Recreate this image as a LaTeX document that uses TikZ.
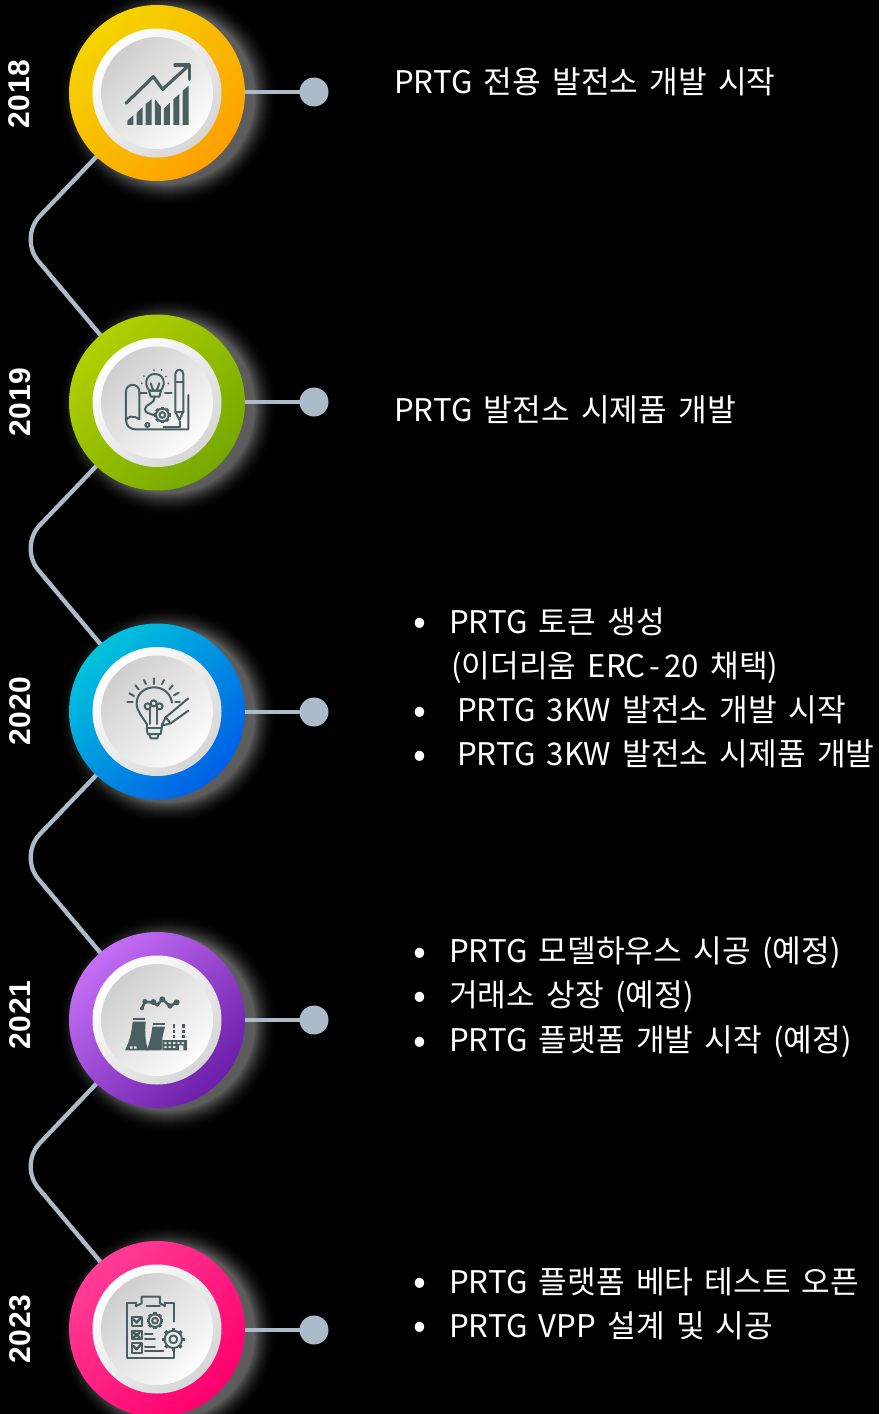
\documentclass[tikz,border=0pt]{standalone}
\usepackage{fontspec}
\setmainfont[WordSpace=1.6]{Noto Sans CJK KR}
\newfontfamily\yearfont[LetterSpace=2]{Liberation Sans}
\usetikzlibrary{shapes.geometric}
\pgfdeclarelayer{bg}
\pgfsetlayers{bg,main}
\definecolor{linec}{RGB}{172,187,202}
\definecolor{iconc}{RGB}{74,95,95}
\definecolor{ya}{RGB}{244,212,0}\definecolor{yb}{RGB}{255,160,0}
\definecolor{ga}{RGB}{176,208,0}\definecolor{gb}{RGB}{118,168,0}
\definecolor{ba}{RGB}{0,195,220}\definecolor{bb}{RGB}{0,95,230}
\definecolor{pa}{RGB}{195,110,245}\definecolor{pb}{RGB}{108,30,170}
\definecolor{ra}{RGB}{255,60,150}\definecolor{rb}{RGB}{255,0,110}
\tikzset{
 ringn/.style 2 args={circle,inner sep=0pt,minimum size=176pt,top color=#1,bottom color=#2,shading angle=45},
 whiten/.style={circle,inner sep=0pt,minimum size=129pt,top color=white,bottom color=black!16,shading angle=45},
 facen/.style={circle,inner sep=0pt,minimum size=112pt,top color=black!19,bottom color=black!1,shading angle=45},
 dotn/.style={circle,inner sep=0pt,minimum size=29pt,fill=linec},
 conn/.style={draw=linec,line width=4.3pt,rounded corners=30pt},
 stubn/.style={draw=linec,line width=4.3pt},
 yearn/.style={rotate=90,text=white,font=\yearfont\bfseries\fontsize{30}{36}\selectfont,inner sep=0pt},
 txt/.style={anchor=base west,text=white,font=\fontsize{31.2}{37}\selectfont,inner sep=0pt},
 bul/.style={anchor=base west,text=white,font=\fontsize{38}{38}\selectfont,inner sep=0pt},
 icon/.style={draw=iconc,line width=2pt,line cap=round,line join=round},
}
\newcommand{\gearico}[3]{%
 \draw[icon] (#1,#2) circle[radius=#3];
 \draw[icon] (#1,#2) circle[radius=0.45*#3];
 \foreach \ga in {0,45,...,315}{\draw[icon,line width=3.4pt,line cap=butt] ({#1+#3*cos(\ga)},{#2+#3*sin(\ga)}) -- ({#1+1.32*#3*cos(\ga)},{#2+1.32*#3*sin(\ga)});}}
\begin{document}
\begin{tikzpicture}[x=1pt,y=-1pt]
\useasboundingbox (0,0) rectangle (879,1414);
\clip (0,0) rectangle (879,1414);
% year rings
\node[ringn={ya}{yb}] (c1) at (157,93) {};
\node[whiten] (w1) at (c1) {}; \node[facen] (f1) at (c1) {};
\node[ringn={ga}{gb}] (c2) at (157,402.5) {};
\node[whiten] (w2) at (c2) {}; \node[facen] (f2) at (c2) {};
\node[ringn={ba}{bb}] (c3) at (157,711.5) {};
\node[whiten] (w3) at (c3) {}; \node[facen] (f3) at (c3) {};
\node[ringn={pa}{pb}] (c4) at (157,1020) {};
\node[whiten] (w4) at (c4) {}; \node[facen] (f4) at (c4) {};
\node[ringn={ra}{rb}] (c5) at (157,1329) {};
\node[whiten] (w5) at (c5) {}; \node[facen] (f5) at (c5) {};
% end dots
\node[dotn] (d1) at (314,92) {};
\node[dotn] (d2) at (314,402) {};
\node[dotn] (d3) at (314,712) {};
\node[dotn] (d4) at (314,1020) {};
\node[dotn] (d5) at (314,1330) {};
% bends
\coordinate (b1) at (19,238);
\coordinate (b2) at (19,547);
\coordinate (b3) at (19,856);
\coordinate (b4) at (19,1165);
\begin{pgfonlayer}{bg}
\fill[black] (0,0) rectangle (879,1414);
\foreach \i in {1,...,5}{
 \foreach \gr in {111,110,...,82}{
  \pgfmathsetmacro{\gv}{0.36*((111-\gr)/24)^2}
  \pgfmathsetmacro{\gw}{min(\gv,0.36)}
  \definecolor{glowc}{gray}{\gw}
  \fill[glowc] ([xshift=11pt,yshift=-4pt]c\i.center) circle[radius=\gr];
 }}
\draw[conn] (c1.center) -- (b1) -- (c2.center);
\draw[conn] (c2.center) -- (b2) -- (c3.center);
\draw[conn] (c3.center) -- (b3) -- (c4.center);
\draw[conn] (c4.center) -- (b4) -- (c5.center);
\foreach \i in {1,...,5}{\draw[stubn] (d\i.center -| c\i.east) -- (d\i.center);}
\end{pgfonlayer}
% years
\node[yearn] (y1) at (19,94) {2018};
\node[yearn] (y2) at (20,402) {2019};
\node[yearn] (y3) at (20,711) {2020};
\node[yearn] (y4) at (20,1015) {2021};
\node[yearn] (y5) at (20,1329) {2023};
% texts
\node[txt] (t1) at (394,93) {PRTG 전용 발전소 개발 시작};
\node[txt] (t2) at (394,421) {PRTG 발전소 시제품 개발};
\node[bul] (b31) at (413,634) {•};
\node[txt] (t31) at (449,633) {PRTG 토큰 생성};
\node[txt] (t32) at (451,677) {(이더리움 ERC\kern4pt-\kern4pt20 채택)};
\node[bul] (b33) at (413,723) {•};
\node[txt] (t33) at (457,721) {PRTG 3KW 발전소 개발 시작};
\node[bul] (b34) at (413,767) {•};
\node[txt] (t34) at (457,765) {PRTG 3KW 발전소 시제품 개발};
\node[bul] (b41) at (413,964) {•};
\node[txt] (t41) at (449,962) {PRTG 모델하우스 시공 (예정)};
\node[bul] (b42) at (413,1008) {•};
\node[txt] (t42) at (449,1006) {거래소 상장 (예정)};
\node[bul] (b43) at (413,1053) {•};
\node[txt] (t43) at (449,1051) {PRTG 플랫폼 개발 시작 (예정)};
\node[bul] (b51) at (413,1294) {•};
\node[txt] (t51) at (449,1293) {PRTG 플랫폼 베타 테스트 오픈};
\node[bul] (b52) at (413,1338) {•};
\node[txt] (t52) at (449,1337) {PRTG VPP 설계 및 시공};
% icon 1: chart
\begin{scope}[shift={(100,40)},x=0.3333pt,y=-0.3333pt]
\draw[icon,line width=3.2pt] (78,190) -- (160,110) -- (188,148) -- (262,80);
\draw[icon,line width=3.2pt] (225,75) -- (268,75) -- (268,118);
\fill[iconc] (82,255) -- (82,242) -- (100,226) -- (100,255) -- cycle;
\fill[iconc] (110,255) -- (110,218) -- (128,202) -- (128,255) -- cycle;
\fill[iconc] (137,255) -- (137,192) -- (155,178) -- (155,255) -- cycle;
\fill[iconc] (165,255) -- (165,178) -- (183,200) -- (183,255) -- cycle;
\fill[iconc] (192,255) -- (192,205) -- (210,188) -- (210,255) -- cycle;
\fill[iconc] (220,255) -- (220,178) -- (238,162) -- (238,255) -- cycle;
\fill[iconc] (248,255) -- (248,152) -- (266,137) -- (266,255) -- cycle;
\end{scope}
% icon 2: blueprint
\begin{scope}[shift={(100,350)},x=0.3333pt,y=-0.3333pt]
\draw[icon] (78,212) -- (78,125) .. controls (78,98) and (118,98) .. (118,125) -- (118,208) .. controls (100,195) and (82,198) .. (78,212) .. controls (80,228) and (88,236) .. (105,238) -- (265,238) -- (265,135);
\draw[icon] (118,130) -- (140,130); \draw[icon] (195,130) -- (215,130);
\draw[icon] (190,232) -- (240,232) -- (240,215);
\draw[icon] (226,185) -- (226,72) .. controls (226,55) and (250,55) .. (250,72) -- (250,185) -- (238,210) -- cycle;
\draw[icon] (226,95) -- (250,95); \draw[icon] (226,185) -- (250,185);
\draw[icon] (148,122) .. controls (130,100) and (140,72) .. (165,72) .. controls (190,72) and (200,100) .. (182,122) -- cycle;
\draw[icon] (152,100) -- (160,122); \draw[icon] (178,100) -- (170,122);
\draw[icon] (147,122) -- (183,122) -- (178,140) -- (152,140) -- cycle;
\draw[icon] (163,140) .. controls (165,165) and (135,160) .. (135,178) .. controls (135,190) and (150,190) .. (160,195);
\gearico{187}{195}{19}
\draw[icon] (142,225) circle[radius=6];
\foreach \pa/\pb in {125/100,132/78,162/60,185/60,198/80,205/100}{\fill[iconc] (\pa,\pb) circle[radius=3];}
\end{scope}
% icon 3: bulb and pencil
\begin{scope}[shift={(100,660)},x=0.3333pt,y=-0.3333pt]
\draw[icon] (140,192) .. controls (128,170) and (110,155) .. (110,130) .. controls (110,100) and (135,82) .. (162,82) .. controls (190,82) and (212,100) .. (216,128);
\draw[icon] (140,192) -- (140,205) -- (185,205) -- (185,192);
\draw[icon] (140,205) -- (143,222) -- (182,222) -- (185,205);
\draw[icon] (148,222) -- (152,235) -- (172,235) -- (176,222);
\draw[icon] (150,192) -- (150,146); \draw[icon] (172,192) -- (172,146);
\draw[icon] (143,139) circle[radius=9]; \draw[icon] (161,130) circle[radius=9]; \draw[icon] (179,139) circle[radius=9];
\draw[icon] (185,197) -- (197,172) -- (265,115); \draw[icon] (185,197) -- (212,190) -- (265,152); \draw[icon] (197,172) -- (212,190);
\foreach \pa/\pb/\pc/\pd in {82/126/98/126,88/100/102/108,106/76/116/88,132/60/138/72,162/55/162/72,192/60/186/72,218/76/208/88,236/98/222/106,240/125/226/125}{\draw[icon] (\pa,\pb) -- (\pc,\pd);}
\end{scope}
% icon 4: factory
\begin{scope}[shift={(100,970)},x=0.3333pt,y=-0.3333pt]
\draw[icon,line width=2.6pt] (126,115) -- (135,95) -- (160,98) -- (172,105) -- (187,88) -- (210,108) -- (230,97);
\foreach \pa/\pb/\pr in {126/115/6,135/95/8,160/96/9,172/104/6,187/88/9,210/108/8,230/97/9}{\fill[iconc] (\pa,\pb) circle[radius=\pr];}
\fill[iconc,even odd rule] (75,241) .. controls (88,215) and (95,190) .. (98,155) -- (137,155) .. controls (134,190) and (136,215) .. (145,241) -- cycle (90,229) rectangle (98,236) (102,229) rectangle (110,236);
\fill[iconc] (99,145) rectangle (136,150);
\fill[iconc] (140,241) .. controls (150,215) and (155,190) .. (157,170) -- (195,170) .. controls (192,185) and (188,195) .. (187,205) -- (185,241) -- cycle;
\fill[iconc] (158,160) rectangle (195,165);
\fill[iconc,even odd rule] (187,210) rectangle (261,241) (193,216) rectangle (200,222) (206,216) rectangle (213,222) (219,216) rectangle (226,222) (232,216) rectangle (239,222) (245,216) rectangle (252,222) (193,228) rectangle (200,234) (206,228) rectangle (213,234) (219,228) rectangle (226,234) (237,226) rectangle (250,241);
\foreach \pa in {218,246}{\fill[iconc] (\pa,162) rectangle +(8,13); \fill[iconc] (\pa,180) rectangle +(8,10); \fill[iconc] (\pa,195) rectangle +(8,10);}
\end{scope}
% icon 5: clipboard
\begin{scope}[shift={(100,1280)},x=0.3333pt,y=-0.3333pt]
\draw[icon] (108,68) -- (80,68) -- (80,235) -- (222,235) -- (222,205);
\draw[icon] (222,125) -- (222,68) -- (195,68);
\draw[icon] (108,68) -- (108,78) -- (125,70) -- (125,50) -- (180,50) -- (180,70) -- (195,78) -- (195,68);
\draw[icon] (140,78) -- (180,78);
\draw[icon] (95,110) rectangle (125,137); \draw[icon,line width=2.4pt] (100,118) -- (110,128) -- (122,114);
\draw[icon] (95,152) rectangle (125,178); \draw[icon,line width=2.4pt] (101,158) -- (119,172) (119,158) -- (101,172);
\draw[icon] (95,190) rectangle (125,218); \draw[icon,line width=2.4pt] (100,198) -- (110,208) -- (122,194);
\gearico{165}{122}{19}
\gearico{220}{178}{26}
\draw[icon] (135,162) -- (158,162); \draw[icon] (135,177) -- (165,177); \draw[icon] (135,200) -- (165,200); \draw[icon] (135,213) -- (190,213);
\end{scope}
\end{tikzpicture}
\end{document}
